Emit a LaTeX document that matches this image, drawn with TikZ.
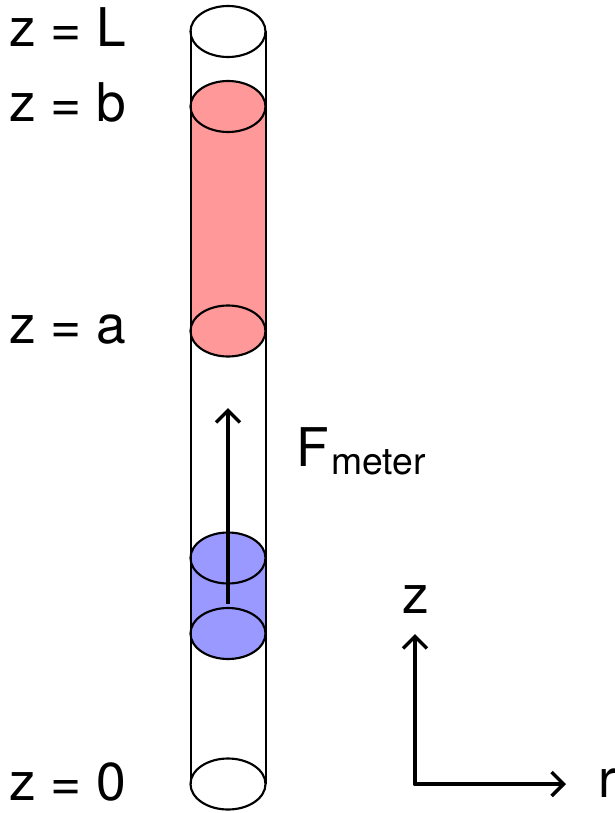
\documentclass[tikz,border=0pt]{standalone}
\usepackage{fontspec}
\setmainfont{TeX Gyre Heros}
\usetikzlibrary{shapes.geometric,arrows.meta}
\definecolor{pinkfill}{RGB}{255,153,153}
\definecolor{bluefill}{RGB}{153,153,255}
\tikzset{
  x=0.75pt,y=-0.75pt,
  disc/.style={ellipse,draw=black,line width=1.6pt,minimum width=75*0.75pt,minimum height=51*0.75pt,inner sep=0pt,outer sep=0pt},
  wall/.style={line width=1.5pt,draw=black},
  barb/.style={line width=3pt,-{Straight Barb[length=9pt,width=18pt,line width=2.6pt]}},
  lab/.style={anchor=base west,inner sep=0pt,outer sep=0pt,font=\fontsize{40}{40}\selectfont},
  sublab/.style={anchor=base west,inner sep=0pt,outer sep=0pt,font=\fontsize{28}{28}\selectfont},
}
\begin{document}
\begin{tikzpicture}
\useasboundingbox (0,0) rectangle (614,813);
% coordinates of disc centres
\coordinate (cL) at (228,31.5);
\coordinate (cb) at (228,106.5);
\coordinate (ca) at (228,331);
\coordinate (cu) at (228,558);
\coordinate (cd) at (228,633.5);
\coordinate (c0) at (228,784);
% painted bodies
\fill[pinkfill] (190.5,106.5) rectangle (265.5,331);
\fill[bluefill] (190.5,558) rectangle (265.5,633);
% discs
\node[disc,fill=white] (dL) at (cL) {};
\node[disc,fill=white] (d0) at (c0) {};
\node[disc,fill=pinkfill] (db) at (cb) {};
\node[disc,fill=pinkfill] (da) at (ca) {};
\node[disc,fill=bluefill] (du) at (cu) {};
\node[disc,fill=bluefill] (dd) at (cd) {};
% tube walls
\draw[wall] (dL.west) -- (d0.west);
\draw[wall] (dL.east) -- (d0.east);
% meter arrow
\coordinate (ftail) at (228,604);
\coordinate (fhead) at (228,408);
\draw[barb] (ftail) -- (fhead);
% axes
\coordinate (o) at (415,784);
\coordinate (zt) at (415,634);
\coordinate (rt) at (566,784);
\draw[barb,line cap=round] (o) -- (zt);
\draw[barb,line cap=round] (o) -- (rt);
% labels
\node[lab] (lL) at (9,47) {z = L};
\node[lab] (lb) at (9,122) {z = b};
\node[lab] (la) at (9,343) {z = a};
\node[lab] (l0) at (9,800) {z = 0};
\node[lab] (lF) at (296,466) {F};
\node[sublab] (lm) at (331,474) {meter};
\node[lab] (lz) at (402,613) {z};
\node[lab] (lr) at (598,797) {r};
\end{tikzpicture}
\end{document}
